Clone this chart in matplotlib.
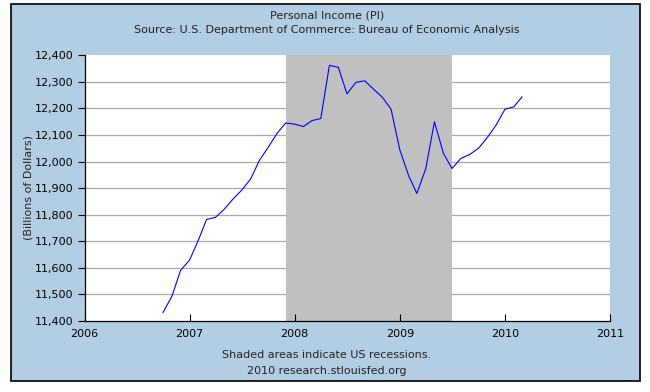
import numpy as np
import pandas as pd
import matplotlib
matplotlib.use('Agg')
import matplotlib.pyplot as plt
from matplotlib.patches import Rectangle
from matplotlib.ticker import FuncFormatter

# monthly personal income, billions of dollars (Oct 2006 - Mar 2010)
months = pd.date_range('2006-10-01', '2010-03-01', freq='MS')
values = [11432, 11494, 11591,
          11629, 11705, 11782, 11790, 11820, 11859, 11892, 11934, 12005, 12053, 12106, 12145,
          12141, 12132, 12154, 12162, 12362, 12355, 12255, 12298, 12304, 12273, 12242, 12198,
          12043, 11945, 11880, 11974, 12150, 12031, 11974, 12012, 12027, 12050, 12091, 12137,
          12197, 12206, 12243]
recession_start = pd.Timestamp('2007-12-01')
recession_end = pd.Timestamp('2009-06-30')
year_ticks = [2006, 2007, 2008, 2009, 2010, 2011]
y_ticks = list(range(11400, 12401, 100))

title = 'Personal Income (PI)'
subtitle = 'Source: U.S. Department of Commerce: Bureau of Economic Analysis'
footer1 = 'Shaded areas indicate US recessions.'
footer2 = '2010 research.stlouisfed.org'

W, H = 650, 392
bg = '#b3cde3'
plt.rcParams['font.family'] = 'DejaVu Sans'
plt.rcParams['font.size'] = 8

fig = plt.figure(figsize=(W / 100, H / 100), dpi=100, facecolor='white')
# blue panel with black frame
fig.patches.append(Rectangle((11 / W, 1 - 381 / H), 629 / W, 377 / H,
                             transform=fig.transFigure, facecolor=bg,
                             edgecolor='black', linewidth=1.2, zorder=-10))

ax = fig.add_axes([84.5 / W, 71 / H, 525.5 / W, 265.7 / H])
ax.set_facecolor('white')
ax.axvspan(recession_start, recession_end, color='#c0c0c0', linewidth=0, zorder=1)
for v in y_ticks[1:-1]:
    ax.axhline(v, color='#aaaaaa', linewidth=0.9, zorder=0.5)
ax.plot(months, values, color='#0000ff', linewidth=0.8, zorder=3)

ax.set_xlim(pd.Timestamp('2006-01-01'), pd.Timestamp('2011-01-01'))
ax.set_ylim(11400, 12400)
ax.set_xticks([pd.Timestamp(f'{y}-01-01') for y in year_ticks])
ax.set_xticklabels([str(y) for y in year_ticks])
ax.set_yticks(y_ticks)
ax.yaxis.set_major_formatter(FuncFormatter(lambda v, p: f'{int(v):,}'))
ax.tick_params(axis='x', direction='in', length=5, width=0.8, pad=6, colors='black')
ax.tick_params(axis='y', direction='out', length=5, width=0.8, pad=3, colors='black')
for s in ['top', 'right']:
    ax.spines[s].set_visible(False)
for s in ['left', 'bottom']:
    ax.spines[s].set_linewidth(0.9)
    ax.spines[s].set_zorder(4)

fig.text(327 / W, 1 - 15 / H, title, ha='center', va='center', color='#222222')
fig.text(327 / W, 1 - 30 / H, subtitle, ha='center', va='center', color='#222222')
fig.text(327 / W, 1 - 355 / H, footer1, ha='center', va='center', color='#222222')
fig.text(327 / W, 1 - 371 / H, footer2, ha='center', va='center', color='#222222')
fig.text(29 / W, 1 - 188 / H, '(Billions of Dollars)', rotation=90,
         ha='center', va='center', color='#222222')

fig.savefig('out.png', dpi=100, facecolor='white')
